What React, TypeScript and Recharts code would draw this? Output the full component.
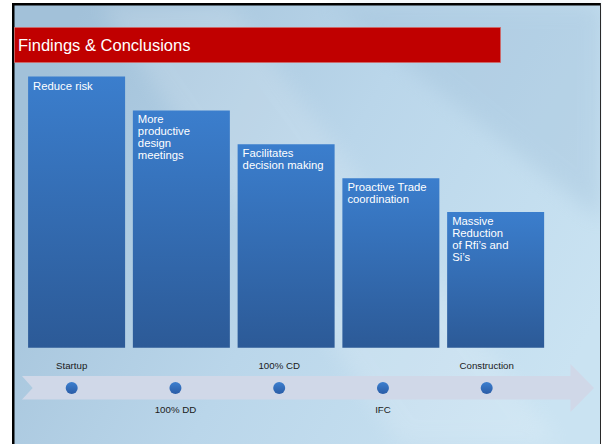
import React from "react";
import {
  BarChart,
  Bar,
  XAxis,
  YAxis,
  LabelList,
  ScatterChart,
  Scatter,
  ReferenceArea,
} from "recharts";

const FONT = "'Liberation Sans', Arial, sans-serif";

// findings shown on the stepped bars (line breaks as on the slide)
const findings = [
  "Reduce risk",
  "More\nproductive\ndesign\nmeetings",
  "Facilitates\ndecision making",
  "Proactive Trade\ncoordination",
  "Massive\nReduction\nof Rfi\u2019s and\nSi\u2019s",
];
const impact = [8, 7, 6, 5, 4];

// project milestones along the arrow
const milestones = ["Startup", "100% DD", "100% CD", "IFC", "Construction"];
const milestoneOrder = [0, 1, 2, 3, 4];

const barData = findings.map((finding, i) => ({ finding, impact: impact[i] }));
const timelineData = milestones.map((name, i) => ({
  order: milestoneOrder[i],
  level: 0,
  name,
}));

const TL_DOMAIN: [number, number] = [-0.479, 5.034];

const BarText = (props: any) => {
  const vb = props.viewBox || props;
  const x = vb.x + 5;
  const y = vb.y + 13;
  const lines = String(props.value).split("\n");
  return (
    <text x={x} y={y} fill="#ffffff" fontSize={11.3} fontFamily={FONT}>
      {lines.map((l, i) => (
        <tspan key={i} x={x} dy={i === 0 ? 0 : 12}>
          {l}
        </tspan>
      ))}
    </text>
  );
};

const Arrow = (props: any) => {
  const { x, y, width, height } = props;
  const mid = y + height / 2;
  const bandTop = y + 12;
  const bandBot = y + 35.5;
  const headX = x + width - 23.5;
  const pts = [
    [x, bandTop],
    [headX, bandTop],
    [headX, y],
    [x + width, mid],
    [headX, y + height],
    [headX, bandBot],
    [x, bandBot],
    [x + 10.7, mid],
  ]
    .map((p) => p.join(","))
    .join(" ");
  return <polygon points={pts} fill="#d0d8e8" />;
};

const Milestone = (props: any) => {
  const { cx, cy, payload } = props;
  const idx = milestones.indexOf(payload.name);
  const above = idx % 2 === 0;
  return (
    <g>
      <circle cx={cx} cy={cy} r={6} fill="url(#dotFill)" />
      <text
        x={cx}
        y={above ? cy - 19.5 : cy + 24.8}
        textAnchor="middle"
        fill="#1a1a1a"
        fontSize={9.7}
        fontFamily={FONT}
      >
        {payload.name}
      </text>
    </g>
  );
};

function Background() {
  return (
    <svg width={602} height={444} style={{ position: "absolute", left: 0, top: 0 }}>
      <defs>
        <linearGradient id="bg" x1="0" y1="0.3" x2="1" y2="0.7">
          <stop offset="0%" stopColor="#a2c1d9" />
          <stop offset="50%" stopColor="#bad6ea" />
          <stop offset="100%" stopColor="#cae3f2" />
        </linearGradient>
        <filter id="soft" x="-20%" y="-20%" width="140%" height="140%">
          <feGaussianBlur stdDeviation="10" />
        </filter>
      </defs>
      <rect width={602} height={444} fill="#ffffff" />
      <rect x={13} y={4} width={588} height={440} fill="url(#bg)" />
      <polygon
        points="100,5 230,5 560,444 400,444"
        fill="#ffffff"
        opacity={0.14}
        filter="url(#soft)"
      />
      <polygon
        points="330,5 601,5 601,220"
        fill="#98b9d4"
        opacity={0.3}
        filter="url(#soft)"
      />
      <rect x={12} y={3} width={589} height={2.5} fill="#000" />
      <rect x={12} y={3} width={2.5} height={441} fill="#000" />
      <rect x={600} y={3} width={1} height={441} fill="#2a2a2a" />
      <rect
        x={14.5}
        y={27.5}
        width={486}
        height={35}
        fill="#c00000"
        stroke="#d06a6a"
        strokeWidth={0.8}
      />
      <text x={18} y={51} fill="#ffffff" fontSize={16.5} fontFamily={FONT}>
        Findings &amp; Conclusions
      </text>
    </svg>
  );
}

export default function App() {
  return (
    <div
      style={{
        position: "absolute",
        left: 0,
        top: 0,
        width: 602,
        height: 444,
        overflow: "hidden",
      }}
    >
      <Background />
      <div style={{ position: "absolute", left: 0, top: 0 }}>
        <BarChart
          width={602}
          height={444}
          data={barData}
          margin={{ top: 76.5, right: 54.1, bottom: 96.3, left: 24.1 }}
        >
          <defs>
            <linearGradient id="barFill" x1="0" y1="0" x2="0" y2="1">
              <stop offset="0%" stopColor="#3b7ecd" />
              <stop offset="100%" stopColor="#2c5a97" />
            </linearGradient>
          </defs>
          <XAxis dataKey="finding" hide />
          <YAxis hide domain={[0, 8]} />
          <Bar dataKey="impact" barSize={97} fill="url(#barFill)" isAnimationActive={false}>
            <LabelList dataKey="finding" content={BarText} />
          </Bar>
        </BarChart>
      </div>
      <div style={{ position: "absolute", left: 0, top: 0 }}>
        <ScatterChart
          width={602}
          height={444}
          margin={{ top: 364, right: 8, bottom: 32, left: 22 }}
        >
          <defs>
            <linearGradient id="dotFill" x1="0" y1="0" x2="0" y2="1">
              <stop offset="0%" stopColor="#3c7fcf" />
              <stop offset="100%" stopColor="#2a5ca6" />
            </linearGradient>
          </defs>
          <XAxis type="number" dataKey="order" domain={TL_DOMAIN} hide />
          <YAxis type="number" dataKey="level" domain={[-1, 1]} hide />
          <ReferenceArea
            x1={TL_DOMAIN[0]}
            x2={TL_DOMAIN[1]}
            y1={-1}
            y2={1}
            ifOverflow="visible"
            shape={Arrow}
          />
          <Scatter
            data={timelineData}
            shape={Milestone}
            isAnimationActive={false}
          />
        </ScatterChart>
      </div>
    </div>
  );
}
